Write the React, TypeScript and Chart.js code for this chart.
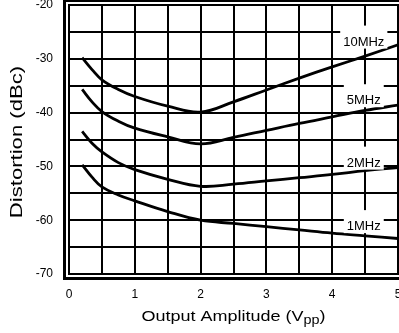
import React, { useEffect, useRef } from 'react';
import { Chart, registerables } from 'chart.js';

Chart.register(...registerables);

// ---- data ----
const xValues = [0.2, 0.35, 0.5, 0.75, 1, 1.5, 2, 2.5, 3, 3.5, 4, 4.5, 5];
const mhz10 = [-29.8, -32.0, -33.9, -35.7, -37.0, -38.8, -39.9, -38.0, -35.8, -33.6, -31.5, -29.5, -27.4];
const mhz5 = [-35.7, -38.0, -39.8, -41.6, -42.9, -44.5, -45.8, -44.6, -43.3, -42.0, -40.8, -39.6, -38.6];
const mhz2 = [-43.5, -45.7, -47.3, -49.3, -50.6, -52.4, -53.7, -53.3, -52.7, -52.1, -51.5, -50.8, -50.2];
const mhz1 = [-49.7, -52.0, -53.8, -55.3, -56.4, -58.4, -60.0, -60.6, -61.2, -61.8, -62.4, -62.9, -63.4];
const seriesNames = ['10MHz', '5MHz', '2MHz', '1MHz'];
const labelX = 4.48;
const labelY = [-26.8, -37.7, -49.3, -61.1];
const xTicks = [0, 1, 2, 3, 4, 5];
const yTicks = [-20, -30, -40, -50, -60, -70];
const xTitle = 'Output Amplitude (V';
const xTitleSub = 'pp';
const yTitle = 'Distortion (dBc)';

const FONT = '"Liberation Sans", Arial, Helvetica, sans-serif';
const CANVAS_W = 430;
const CANVAS_H = 353;
const OFFSET_Y = 20;

const decorPlugin = {
  id: 'decor',
  afterDraw(chart: any) {
    const { ctx, chartArea, scales } = chart;
    const { left, top, right, bottom } = chartArea;
    ctx.save();
    // double frame
    ctx.strokeStyle = '#000';
    ctx.lineWidth = 2;
    ctx.strokeRect(left, top, right - left, bottom - top);
    ctx.lineWidth = 3;
    ctx.strokeRect(left - 4.5, top - 4.5, right - left + 9, bottom - top + 9);

    // series labels
    ctx.font = `13px ${FONT}`;
    ctx.textAlign = 'center';
    ctx.textBaseline = 'middle';
    seriesNames.forEach((name, i) => {
      const px = scales.x.getPixelForValue(labelX);
      const py = scales.y.getPixelForValue(labelY[i]);
      const w = ctx.measureText(name).width;
      ctx.fillStyle = '#fff';
      ctx.fillRect(px - w / 2 - 3, py - 16, w + 6, 23);
      ctx.fillStyle = '#000';
      ctx.fillText(name, px, py + 0.5);
    });

    // x title with subscript
    const sx = 1.2;
    ctx.font = `15px ${FONT}`;
    const w1 = ctx.measureText(xTitle).width;
    const w3 = ctx.measureText(')').width;
    ctx.font = `12px ${FONT}`;
    const w2 = ctx.measureText(xTitleSub).width;
    const total = (w1 + w2 + w3) * sx;
    const cx = (left + right) / 2;
    const baseY = 321 + OFFSET_Y;
    ctx.save();
    ctx.translate(cx - total / 2, baseY);
    ctx.scale(sx, 1);
    ctx.fillStyle = '#000';
    ctx.textAlign = 'left';
    ctx.textBaseline = 'alphabetic';
    ctx.font = `15px ${FONT}`;
    ctx.fillText(xTitle, 0, 0);
    ctx.font = `12px ${FONT}`;
    ctx.fillText(xTitleSub, w1, 3);
    ctx.font = `15px ${FONT}`;
    ctx.fillText(')', w1 + w2, 0);
    ctx.restore();

    // y title
    ctx.save();
    ctx.translate(17, 142 + OFFSET_Y);
    ctx.rotate(-Math.PI / 2);
    ctx.scale(1.3, 1);
    ctx.font = `17px ${FONT}`;
    ctx.fillStyle = '#000';
    ctx.textAlign = 'center';
    ctx.textBaseline = 'middle';
    ctx.fillText(yTitle, 0, 0);
    ctx.restore();

    ctx.restore();
  },
};

function makeSeries(values: number[]) {
  return values.map((v, i) => ({ x: xValues[i], y: v }));
}

export default function App() {
  const canvasRef = useRef<HTMLCanvasElement | null>(null);

  useEffect(() => {
    if (!canvasRef.current) return;
    const all = [mhz10, mhz5, mhz2, mhz1];
    const chart = new Chart(canvasRef.current, {
      type: 'line',
      data: {
        datasets: all.map((vals, i) => ({
          label: seriesNames[i],
          data: makeSeries(vals),
          borderColor: '#000',
          borderWidth: 2.8,
          pointRadius: 0,
          tension: 0.4,
          fill: false,
        })),
      },
      options: {
        responsive: false,
        animation: false,
        layout: { padding: { top: 5 + OFFSET_Y, left: 0, right: CANVAS_W - 398, bottom: 0 } },
        plugins: {
          legend: { display: false },
          tooltip: { enabled: false },
          title: { display: false },
        },
        scales: {
          x: {
            type: 'linear',
            min: 0,
            max: 5,
            afterFit: (s: any) => { s.height = CANVAS_H - (274 + OFFSET_Y); },
            ticks: {
              stepSize: 0.5,
              autoSkip: false,
              maxRotation: 0,
              padding: 13,
              color: '#000',
              font: { family: FONT, size: 12 },
              callback: (v: any) => (xTicks.includes(Number(v)) ? String(v) : ''),
            },
            grid: { color: '#000', lineWidth: 2, drawTicks: false },
            border: { display: false },
          },
          y: {
            type: 'linear',
            min: -70,
            max: -20,
            afterFit: (s: any) => { s.width = 69; },
            ticks: {
              stepSize: 5,
              autoSkip: false,
              padding: 16,
              color: '#000',
              font: { family: FONT, size: 12 },
              callback: (v: any) => (yTicks.includes(Number(v)) ? String(v) : ''),
            },
            grid: { color: '#000', lineWidth: 2, drawTicks: false },
            border: { display: false },
          },
        },
      },
      plugins: [decorPlugin],
    } as any);
    return () => chart.destroy();
  }, []);

  return (
    <div style={{ position: 'fixed', left: 0, top: 0, width: 399, height: 333, overflow: 'hidden', background: '#fff' }}>
      <canvas
        ref={canvasRef}
        width={CANVAS_W}
        height={CANVAS_H}
        style={{ position: 'absolute', left: 0, top: -OFFSET_Y, width: CANVAS_W, height: CANVAS_H }}
      />
    </div>
  );
}
